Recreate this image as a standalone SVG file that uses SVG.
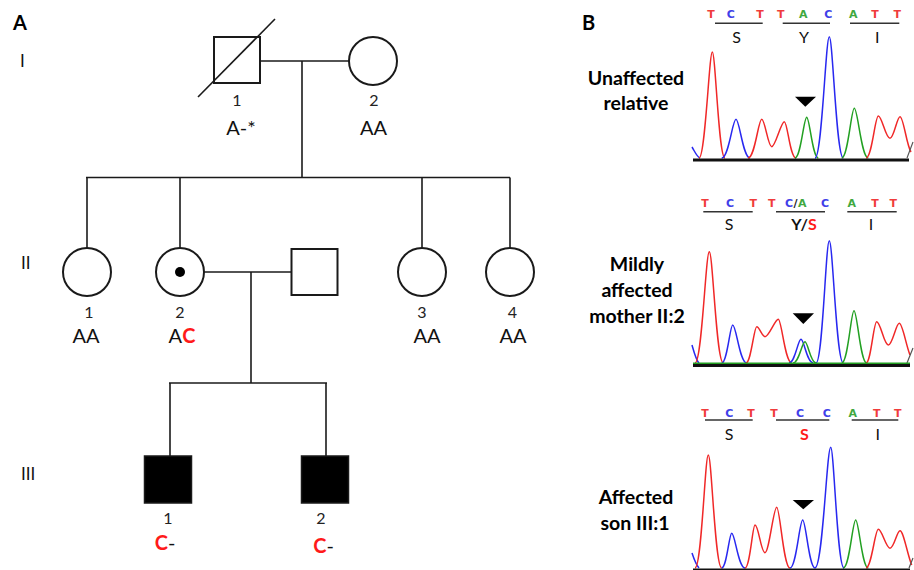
<svg xmlns="http://www.w3.org/2000/svg" width="914" height="570" viewBox="0 0 914 570">
<style>
.ln{stroke:#1a1a1a;stroke-width:1.6;fill:none}
.sh{stroke:#1a1a1a;stroke-width:2;fill:#fff}
.aff{stroke:#1a1a1a;stroke-width:1.5;fill:#000}
.num{font-family:Lato,"Liberation Sans",sans-serif;font-size:16px;fill:#222;text-anchor:middle}
.gt{font-family:Lato,"Liberation Sans",sans-serif;font-size:20px;fill:#111;text-anchor:middle}
.red{fill:#ff1a1a;font-weight:bold}
.gen{font-family:Lato,"Liberation Sans",sans-serif;font-size:17px;fill:#111}
.pl{font-family:Lato,"Liberation Sans",sans-serif;font-size:20px;font-weight:bold;fill:#000}
.lab{font-family:Lato,"Liberation Sans",sans-serif;font-size:19.5px;font-weight:bold;fill:#000;text-anchor:middle}
.b{font-family:"DejaVu Sans",sans-serif;font-size:11px;font-weight:bold;text-anchor:middle}
.bT{fill:#f03c3c}.bC{fill:#4040e8}.bA{fill:#40a840}
.ul{stroke:#333;stroke-width:1.5}
.aa{font-family:Lato,"Liberation Sans",sans-serif;font-size:16px;fill:#111;text-anchor:middle}
.aar{fill:#ff1a1a;font-weight:bold}
.pr{fill:none;stroke:#f02828;stroke-width:1.5}
.pb{fill:none;stroke:#2828f0;stroke-width:1.5}
.pg{fill:none;stroke:#22a022;stroke-width:1.5}
.pk{fill:none;stroke:#555;stroke-width:1.2}
.base{stroke:#111;stroke-width:3}
</style>

<!-- Panel labels -->
<text class="pl" x="13" y="30">A</text>
<text class="pl" x="582" y="30">B</text>
<text class="gen" x="20" y="67">I</text>
<text class="gen" x="21" y="269">II</text>
<text class="gen" x="21" y="480">III</text>

<!-- Connectors -->
<g id="connectors">
  <line class="ln" x1="260" y1="61" x2="349" y2="61"/>
  <line class="ln" x1="302" y1="61" x2="302" y2="177.5"/>
  <line class="ln" x1="86" y1="177.5" x2="510" y2="177.5"/>
  <line class="ln" x1="87" y1="177.5" x2="87" y2="248"/>
  <line class="ln" x1="180" y1="177.5" x2="180" y2="248"/>
  <line class="ln" x1="422" y1="177.5" x2="422" y2="248"/>
  <line class="ln" x1="510" y1="177.5" x2="510" y2="248"/>
  <line class="ln" x1="204" y1="272" x2="291.5" y2="272"/>
  <line class="ln" x1="251" y1="272" x2="251" y2="383"/>
  <line class="ln" x1="169" y1="383" x2="327" y2="383"/>
  <line class="ln" x1="170" y1="383" x2="170" y2="456"/>
  <line class="ln" x1="326" y1="383" x2="326" y2="456"/>
</g>

<!-- Generation I -->
<g id="I-1">
  <rect class="sh" x="214" y="37" width="46" height="46"/>
  <line class="ln" x1="198" y1="97" x2="275" y2="19"/>
  <text class="num" x="237" y="106">1</text>
  <text class="gt" x="241" y="135">A-*</text>
</g>
<g id="I-2">
  <circle class="sh" cx="373" cy="61" r="24"/>
  <text class="num" x="374" y="106">2</text>
  <text class="gt" x="373.5" y="135">AA</text>
</g>

<!-- Generation II -->
<g id="II-1">
  <circle class="sh" cx="87" cy="272" r="24"/>
  <text class="num" x="89" y="318">1</text>
  <text class="gt" x="86" y="343">AA</text>
</g>
<g id="II-2">
  <circle class="sh" cx="180" cy="272" r="24"/>
  <circle cx="180" cy="272" r="5" fill="#000"/>
  <text class="num" x="180" y="318">2</text>
  <text class="gt" x="182" y="343">A<tspan class="red">C</tspan></text>
</g>
<g id="II-spouse">
  <rect class="sh" x="291.5" y="249" width="46" height="46"/>
</g>
<g id="II-3">
  <circle class="sh" cx="422" cy="272" r="24"/>
  <text class="num" x="422" y="318">3</text>
  <text class="gt" x="427" y="343">AA</text>
</g>
<g id="II-4">
  <circle class="sh" cx="510" cy="272" r="24"/>
  <text class="num" x="512.5" y="318">4</text>
  <text class="gt" x="513" y="343">AA</text>
</g>

<!-- Generation III -->
<g id="III-1">
  <rect class="aff" x="144.5" y="456" width="47" height="47"/>
  <text class="num" x="168" y="524">1</text>
  <text class="gt" x="165" y="550"><tspan class="red">C</tspan>-</text>
</g>
<g id="III-2">
  <rect class="aff" x="301.5" y="456" width="47" height="47"/>
  <text class="num" x="321" y="524">2</text>
  <text class="gt" x="323.5" y="553"><tspan class="red">C</tspan>-</text>
</g>

<!-- Panel B labels -->
<text class="lab" x="636" y="85">Unaffected</text>
<text class="lab" x="636" y="110">relative</text>
<text class="lab" x="637" y="271">Mildly</text>
<text class="lab" x="637" y="297">affected</text>
<text class="lab" x="637" y="323">mother II:2</text>
<text class="lab" x="636" y="504">Affected</text>
<text class="lab" x="635" y="530">son III:1</text>

<!-- Chromatogram 1 -->
<g id="chrom1">
  <text class="b bT" x="711" y="18">T</text>
  <text class="b bC" x="730.7" y="18">C</text>
  <text class="b bT" x="760" y="18">T</text>
  <text class="b bT" x="780.7" y="18">T</text>
  <text class="b bA" x="803.3" y="18">A</text>
  <text class="b bC" x="828.3" y="18">C</text>
  <text class="b bA" x="853.3" y="18">A</text>
  <text class="b bT" x="875" y="18">T</text>
  <text class="b bT" x="897.3" y="18">T</text>
  <line class="ul" x1="715" y1="23.3" x2="762.7" y2="23.3"/>
  <line class="ul" x1="782.7" y1="23.3" x2="830" y2="23.3"/>
  <line class="ul" x1="850" y1="23.3" x2="899.3" y2="23.3"/>
  <text class="aa" x="736.7" y="43">S</text>
  <text class="aa" x="804" y="43">Y</text>
  <text class="aa" x="877.3" y="43">I</text>
  <path class="pb" d="M 692 147 C 695 152, 697 157, 700 158"/>
  <path class="pr" d="M 699 158 C 705.3 158, 709.2 52, 712.3 52 C 715.5 52, 718.6 158, 725 158"/>
  <path class="pb" d="M 721.7 158 C 728.8 158, 732.4 119.3, 736 119.3 C 739.5 119.3, 743 158, 750 158"/>
  <path class="pr" d="M 748 158 C 755 158, 758.3 119.3, 761.7 119.3 C 765 119.3, 768 146.7, 771.7 146.7 C 775.5 146.7, 781 121.7, 784.3 121.7 C 787.5 121.7, 790 158, 796 158"/>
  <path class="pg" d="M 795 158 C 800.8 158, 803.8 117.3, 806.7 117.3 C 809.6 117.3, 812.5 158, 818.3 158"/>
  <path class="pb" d="M 815 158 C 822 158, 825.7 36.7, 829.3 36.7 C 832.8 36.7, 836.3 158, 843.3 158"/>
  <path class="pg" d="M 841.7 158 C 848 158, 851.2 108.3, 854.3 108.3 C 857.8 108.3, 861.3 158, 868.3 158"/>
  <path class="pr" d="M 866 158 C 872 158, 875 116, 878.3 116 C 882 116, 885.5 138.3, 890 138.3 C 894 138.3, 897 116.7, 900 116.7 C 903.5 116.7, 906.5 145, 911 152"/>
  <path class="pk" d="M 907 158 L 913 142"/>
  <line class="base" x1="693" y1="160" x2="909" y2="160"/>
  <polygon points="795,96.7 816,96.7 805.3,106.7" fill="#000"/>
</g>

<!-- Chromatogram 2 -->
<g id="chrom2">
  <text class="b bT" x="705" y="207">T</text>
  <text class="b bC" x="730" y="207">C</text>
  <text class="b bT" x="753.3" y="207">T</text>
  <text class="b bT" x="771.7" y="207">T</text>
  <text class="b bC" x="789" y="207">C</text>
  <text class="b" x="795.5" y="207" style="fill:#222">/</text>
  <text class="b bA" x="802.3" y="207">A</text>
  <text class="b bC" x="825" y="207">C</text>
  <text class="b bA" x="851.7" y="207">A</text>
  <text class="b bT" x="875" y="207">T</text>
  <text class="b bT" x="893.3" y="207">T</text>
  <line class="ul" x1="703.3" y1="211.7" x2="752.7" y2="211.7"/>
  <line class="ul" x1="776" y1="211.7" x2="825" y2="211.7"/>
  <line class="ul" x1="847.3" y1="211.7" x2="896.7" y2="211.7"/>
  <text class="aa" x="729" y="229.5">S</text>
  <text class="aa" x="804" y="229.5" font-weight="bold">Y/<tspan class="aar">S</tspan></text>
  <text class="aa" x="871" y="229.5">I</text>
  <path class="pb" d="M 692 345 C 694 352, 696 360, 699 363"/>
  <path class="pr" d="M 695 363 C 702 363, 705.7 251.7, 709.3 251.7 C 712.8 251.7, 716.3 363, 723.3 363"/>
  <path class="pb" d="M 721.7 363 C 727.2 363, 730 325, 732.7 325 C 736.2 325, 739.7 363, 746.7 363"/>
  <path class="pr" d="M 746 363 C 751 363, 754 326.7, 756.7 326.7 C 759.5 326.7, 762 336.7, 765 336.7 C 769 336.7, 775 319.3, 778.3 319.3 C 781.6 319.3, 785 363, 791.7 363"/>
  <path class="pb" d="M 789 363 C 795 363, 798 339.3, 801 339.3 C 804 339.3, 807 363, 813.3 363"/>
  <path class="pg" d="M 793 363 C 799 363, 802 341.7, 805 341.7 C 807.8 341.7, 810.5 363, 816 363"/>
  <path class="pb" d="M 816 363 C 822.7 363, 825.8 240.7, 829.3 240.7 C 832.8 240.7, 836.3 363, 843.3 363"/>
  <path class="pg" d="M 841.7 363 C 848 363, 851 310.7, 854 310.7 C 857.2 310.7, 860.4 363, 866.7 363"/>
  <path class="pr" d="M 866 363 C 871 363, 873.5 321.7, 876.7 321.7 C 880.5 321.7, 884 345, 888.3 345 C 892.5 345, 896 323.3, 899.3 323.3 C 902.5 323.3, 906 345, 910 355"/>
  <path class="pk" d="M 907 363 L 913 348"/>
  <line x1="693" y1="363.3" x2="910" y2="363.3" stroke="#22a022" stroke-width="1.5"/>
  <line class="base" x1="693" y1="365.5" x2="910" y2="365.5"/>
  <polygon points="792.7,313.3 814,313.3 803.3,324" fill="#000"/>
</g>

<!-- Chromatogram 3 -->
<g id="chrom3">
  <text class="b bT" x="705" y="417">T</text>
  <text class="b bC" x="729.3" y="417">C</text>
  <text class="b bT" x="751" y="417">T</text>
  <text class="b bT" x="774" y="417">T</text>
  <text class="b bC" x="800" y="417">C</text>
  <text class="b bC" x="826.7" y="417">C</text>
  <text class="b bA" x="852.7" y="417">A</text>
  <text class="b bT" x="876.7" y="417">T</text>
  <text class="b bT" x="897.7" y="417">T</text>
  <line class="ul" x1="705" y1="420" x2="752.7" y2="420"/>
  <line class="ul" x1="776" y1="420" x2="829.3" y2="420"/>
  <line class="ul" x1="851.7" y1="420" x2="898.3" y2="420"/>
  <text class="aa" x="729" y="439.5">S</text>
  <text class="aa aar" x="804.3" y="439.5">S</text>
  <text class="aa" x="877.7" y="439.5">I</text>
  <path class="pb" d="M 692 553 C 694 559, 696 565, 699 568"/>
  <path class="pr" d="M 695 568 C 701.7 568, 705 455, 708.3 455 C 711.6 455, 715 568, 721.7 568"/>
  <path class="pb" d="M 721.7 568 C 726.7 568, 729.2 533.3, 731.7 533.3 C 735 533.3, 738.3 568, 745 568"/>
  <path class="pr" d="M 745 568 C 750 568, 752.5 525, 755 525 C 758.5 525, 761 552.7, 765 552.7 C 769 552.7, 773.5 507.3, 776.7 507.3 C 780 507.3, 783.5 568, 790 568"/>
  <path class="pb" d="M 790 568 C 796.3 568, 799.5 520, 802.7 520 C 805.8 520, 809 568, 815 568"/>
  <path class="pb" d="M 815 568 C 822.8 568, 826.8 447.3, 830.7 447.3 C 834 447.3, 837.3 568, 844 568"/>
  <path class="pg" d="M 843.3 568 C 849.5 568, 852.6 520, 855.7 520 C 858.8 520, 862 568, 868.3 568"/>
  <path class="pr" d="M 866 568 C 871.5 568, 875 529.3, 878.3 529.3 C 882 529.3, 886 548.3, 890 548.3 C 894 548.3, 897 530.7, 900 530.7 C 903.5 530.7, 907.5 555, 911.7 565"/>
  <path class="pk" d="M 909 568 L 913 558"/>
  <line x1="693" y1="569.5" x2="910" y2="569.5" stroke="#111" stroke-width="2"/>
  <polygon points="792.7,500 814,500 803.3,509.3" fill="#000"/>
</g>
</svg>
